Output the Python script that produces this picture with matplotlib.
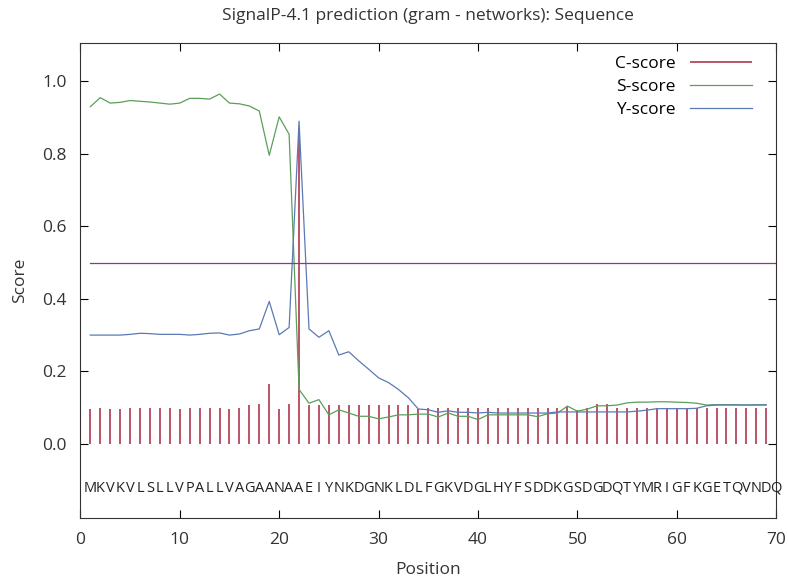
import matplotlib.pyplot as plt
import numpy as np

plt.rcParams['font.family'] = ['Open Sans', 'DejaVu Sans']

seq = 'MKVKVLSLLVPALLVAGAANAAEIYNKDGNKLDLFGKVDGLHYFSDDKGSDGDQTYMRIGFKGETQVNDQ'
pos = list(range(1, 70))
c_score = [.096, .1, .096, .096, .1, .1, .1, .1, .1, .097, .1, .1, .1, .1, .096, .1,
           .106, .11, .166, .097, .11, .87, .108, .108, .108, .108, .108, .108, .108, .108,
           .108, .108, .108, .096, .098, .098, .098, .098, .098, .1, .1, .098, .1, .1,
           .098, .098, .1, .1, .105, .092, .098, .11, .11, .1, .098, .098, .098, .1,
           .1, .1, .1, .1, .1, .1, .1, .098, .098, .1, .1]
s_score = [.93, .955, .94, .942, .947, .945, .943, .94, .937, .94, .953, .953, .951, .965,
           .94, .938, .932, .918, .796, .902, .854, .15, .112, .122, .08, .094, .085, .076,
           .076, .069, .074, .08, .08, .082, .082, .074, .085, .076, .076, .067, .08, .08,
           .08, .08, .08, .075, .083, .085, .104, .09, .096, .105, .105, .107, .113, .115,
           .115, .116, .116, .115, .114, .112, .107, .108, .108, .108, .107, .108, .108]
y_score = [.3, .3, .3, .3, .302, .305, .304, .302, .302, .302, .3, .302, .305, .306, .3,
           .303, .312, .317, .393, .301, .321, .89, .317, .294, .312, .245, .254, .229,
           .206, .182, .169, .15, .127, .096, .094, .087, .091, .087, .087, .085, .087,
           .085, .085, .085, .085, .085, .085, .088, .088, .088, .088, .088, .088, .088,
           .088, .09, .093, .097, .097, .097, .097, .098, .105, .107, .107, .107, .107,
           .107, .107]
cutoff = 0.5

fig = plt.figure(figsize=(7.88, 5.77), dpi=100)
ax = fig.add_axes([0.102, 0.102, 0.883, 0.823])

ax.vlines(pos, 0, c_score, color='#a8263f', lw=1.1, label='C-score')
ax.plot(pos, s_score, color='#5c9e5c', lw=0.9, label='S-score')
ax.plot(pos, y_score, color='#5a7ab4', lw=0.9, label='Y-score')
ax.plot([1, 70], [cutoff, cutoff], color='#8a3a82', lw=0.9)

for i, ch in enumerate(seq):
    ax.text(i + 1, -0.122, ch, ha='center', va='center', fontsize=10.5, color='#222222')

ax.set_xlim(0, 70)
ax.set_ylim(-0.205, 1.105)
ax.set_xticks(range(0, 71, 10))
ax.set_yticks([0.0, 0.2, 0.4, 0.6, 0.8, 1.0])
ax.set_yticklabels(['0.0', '0.2', '0.4', '0.6', '0.8', '1.0'])
ax.tick_params(direction='in', top=True, right=True, length=6, labelsize=12.5,
               labelcolor='#333333', pad=10)
for sp in ax.spines.values():
    sp.set_color('#333333')

ax.set_xlabel('Position', fontsize=12.5, color='#333333', labelpad=10)
ax.set_ylabel('Score', fontsize=12.5, color='#333333', labelpad=10)
ax.set_title('SignalP-4.1 prediction (gram - networks): Sequence', fontsize=12.5,
             color='#333333', pad=17)

ax.legend(loc='upper right', bbox_to_anchor=(0.9755, 0.9886), borderaxespad=0,
          frameon=False, markerfirst=False, fontsize=12.5,
          handlelength=3.6, labelspacing=0.4)

plt.savefig('out.png')
